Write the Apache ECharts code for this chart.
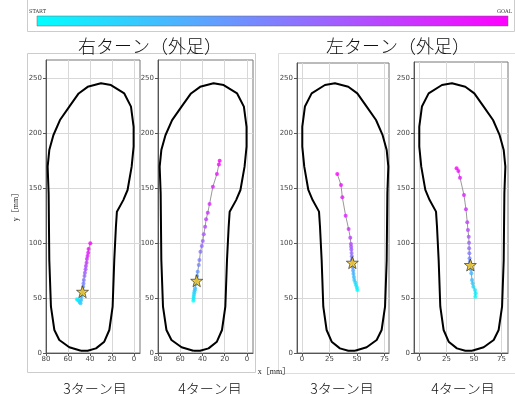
<!DOCTYPE html>
<html>
<head>
<meta charset="utf-8">
<script src="https://cdn.jsdelivr.net/npm/echarts@6/dist/echarts.min.js"></script>
<style>
  html, body { margin: 0; padding: 0; background: #fff; }
  #chart { width: 515px; height: 394px; }
</style>
</head>
<body>
<div id="chart"></div>
<script>
// Insole outline (mm), traced once and shared by every panel
const footOutline = [
  [48.2, 2.1], [58.8, 5.2], [67.9, 11.8], [72.4, 20.9], [75.5, 42.1], [77.0, 84.5],
  [77.6, 145.0], [78.5, 169.4], [77.0, 184.5], [73.3, 198.0], [67.3, 211.8],
  [58.8, 224.0], [50.3, 236.0], [42.1, 242.0], [30.0, 245.2], [20.9, 243.6],
  [8.8, 236.0], [2.7, 224.0], [0.3, 205.7], [0.3, 187.6], [2.1, 169.4],
  [5.8, 148.2], [9.7, 139.0], [15.5, 128.5], [16.4, 114.8], [17.9, 84.5],
  [19.4, 42.1], [22.4, 20.9], [27.0, 10.3], [34.5, 4.2], [42.1, 2.1], [48.2, 2.1]
];

// Centre-of-pressure tracks, start -> goal (x, y in mm)
const rightTurn3 = [
  [51.9, 48.8], [51.0, 48.2], [50.1, 47.6], [49.2, 46.1], [48.6, 45.2], [48.0, 48.2],
  [47.7, 51.2], [47.4, 53.6], [46.8, 55.7], [46.2, 60.3], [45.9, 63.3], [45.6, 66.4],
  [45.0, 70.0], [44.6, 73.0], [44.0, 76.1], [43.7, 79.1], [43.1, 82.1], [42.8, 85.5],
  [42.2, 88.2], [41.6, 91.2], [41.3, 94.5], [39.7, 99.7]
];
const rightTurn4 = [
  [48.2, 47.5], [48.0, 49.5], [47.9, 51.2], [47.6, 53.2], [47.3, 55.2], [46.9, 57.0],
  [46.6, 58.8], [46.1, 62.4], [45.2, 65.7], [44.8, 70.0], [44.3, 73.9], [43.3, 80.0],
  [42.7, 84.5], [41.8, 92.0], [40.6, 97.3], [39.7, 101.8], [38.8, 107.9], [37.6, 114.8],
  [36.7, 121.5], [35.2, 127.5], [33.6, 135.5], [30.6, 151.2], [27.0, 162.7],
  [25.2, 171.5], [24.5, 174.8]
];
const leftTurn3 = [
  [50.3, 57.3], [49.9, 59.5], [49.1, 61.8], [48.5, 64.0], [47.6, 66.4], [47.2, 69.0],
  [46.8, 72.0], [46.5, 75.0], [46.2, 78.0], [45.8, 82.1], [45.5, 85.0], [45.3, 88.0],
  [45.1, 91.0], [44.9, 94.0], [44.7, 96.5], [44.5, 99.1], [43.9, 104.8], [42.4, 112.7],
  [39.7, 124.8], [36.7, 141.5], [35.5, 152.7], [32.1, 162.7]
];
const leftTurn4 = [
  [51.2, 51.2], [51.5, 54.2], [50.9, 57.3], [49.4, 60.3], [48.8, 63.4], [48.2, 66.4],
  [47.6, 72.4], [47.2, 76.0], [46.7, 80.0], [46.2, 83.0], [46.0, 86.1], [45.8, 90.6],
  [45.6, 95.2], [45.5, 100.3], [45.2, 105.7], [44.5, 111.8], [43.9, 118.8],
  [42.7, 130.6], [40.9, 143.6], [37.3, 159.4], [35.8, 165.5], [34.2, 167.9]
];

// Star markers on each track
const rightTurn3Star = [46.8, 55.7];
const rightTurn4Star = [45.2, 65.7];
const leftTurn3Star = [45.8, 82.1];
const leftTurn4Star = [46.7, 80.0];

// Axis ticks
const rightTicksX = [0, 20, 40, 60, 80];
const leftTicksX = [0, 25, 50, 75];
const ticksY = [0, 50, 100, 150, 200, 250];

const groupTitles = ['右ターン（外足）', '左ターン（外足）'];
const panelLabels = ['3ターン目', '4ターン目', '3ターン目', '4ターン目'];

// cyan -> magenta ("cool") colour for position t in [0, 1]
function coolColor(t) {
  const r = Math.round(255 * t), g = Math.round(255 * (1 - t));
  return 'rgb(' + r + ',' + g + ',255)';
}

const panels = [
  { track: rightTurn3, star: rightTurn3Star, ticks: rightTicksX, inverse: true,
    xmin: -5.5, xmax: 80, ymax: 266.4, grid: { left: 46, top: 60, width: 94, height: 293 } },
  { track: rightTurn4, star: rightTurn4Star, ticks: rightTicksX, inverse: true,
    xmin: -5.5, xmax: 80, ymax: 266.4, grid: { left: 158, top: 60, width: 95, height: 293 } },
  { track: leftTurn3, star: leftTurn3Star, ticks: leftTicksX, inverse: false,
    xmin: -4.5, xmax: 79.1, ymax: 263.6, grid: { left: 297, top: 63, width: 92, height: 290 } },
  { track: leftTurn4, star: leftTurn4Star, ticks: leftTicksX, inverse: false,
    xmin: -4.5, xmax: 80.9, ymax: 264.5, grid: { left: 414, top: 62, width: 94, height: 291 } }
];

const tickFont = { fontFamily: 'DejaVu Sans', fontSize: 7, color: '#444' };
const grids = [], xAxes = [], yAxes = [], series = [];

panels.forEach(function (p, i) {
  grids.push(Object.assign({ show: true, borderColor: '#777', borderWidth: 1,
    backgroundColor: '#fff' }, p.grid));
  xAxes.push({
    type: 'value', gridIndex: i, min: p.xmin, max: p.xmax, inverse: p.inverse,
    axisLine: { show: true, onZero: false, lineStyle: { color: '#555' } },
    axisTick: { show: true, length: 3, customValues: p.ticks, lineStyle: { color: '#555' } },
    axisLabel: Object.assign({ customValues: p.ticks, margin: 3 }, tickFont),
    splitLine: { show: true, lineStyle: { color: '#d8d8d8', width: 1 } }
  });
  yAxes.push({
    type: 'value', gridIndex: i, min: 0, max: p.ymax,
    axisLine: { show: true, onZero: false, lineStyle: { color: '#555' } },
    axisTick: { show: true, length: 3, customValues: ticksY, lineStyle: { color: '#555' } },
    axisLabel: Object.assign({ customValues: ticksY, margin: 4 }, tickFont),
    splitLine: { show: true, lineStyle: { color: '#d8d8d8', width: 1 } }
  });
  series.push({
    type: 'line', xAxisIndex: i, yAxisIndex: i, data: footOutline,
    symbol: 'none', silent: true, lineStyle: { color: '#000', width: 2 }, z: 2
  });
  series.push({
    type: 'line', xAxisIndex: i, yAxisIndex: i, data: p.track,
    symbol: 'none', silent: true, lineStyle: { color: '#999', width: 1 }, z: 3
  });
  const n = p.track.length;
  series.push({
    type: 'scatter', xAxisIndex: i, yAxisIndex: i, symbolSize: 4, z: 4,
    data: p.track.map(function (pt, k) {
      return { value: pt, itemStyle: { color: coolColor(k / (n - 1)) } };
    })
  });
  series.push({
    type: 'scatter', xAxisIndex: i, yAxisIndex: i, symbol: 'path://M0,-10L2.35,-3.24L9.51,-3.09L3.8,1.24L5.88,8.09L0,4L-5.88,8.09L-3.8,1.24L-9.51,-3.09L-2.35,-3.24Z',
    symbolSize: 12, z: 5, data: [p.star],
    itemStyle: { color: '#f5c518', borderColor: '#222', borderWidth: 0.8 }
  });
});

const serifJP = '"Noto Sans CJK JP", sans-serif';
const graphics = [
  // frame round the colour bar (open at the top)
  { type: 'polyline', shape: { points: [[27.5, 0], [27.5, 31.5], [514.5, 31.5], [514.5, 0]] },
    style: { fill: 'none', stroke: '#ccc', lineWidth: 1 }, z: 0 },
  // grouping frames
  { type: 'rect', shape: { x: 27.5, y: 53.5, width: 228, height: 319 }, style: { fill: 'none', stroke: '#ccc', lineWidth: 1 }, z: 0 },
  { type: 'rect', shape: { x: 278.5, y: 53.5, width: 240, height: 320 }, style: { fill: 'none', stroke: '#ddd', lineWidth: 1 }, z: 0 },
  // colour bar
  { type: 'rect', shape: { x: 37, y: 16, width: 471, height: 10 },
    style: { fill: new echarts.graphic.LinearGradient(0, 0, 1, 0, [
      { offset: 0, color: '#00ffff' }, { offset: 1, color: '#ff00ff' }]), stroke: '#666', lineWidth: 0.5 } },
  { type: 'text', x: 29, y: 9, style: { text: 'START', font: '5px "DejaVu Serif"', fill: '#333' } },
  { type: 'text', x: 497, y: 9, style: { text: 'GOAL', font: '5px "DejaVu Serif"', fill: '#333' } },
  // group titles
  { type: 'text', x: 150, y: 46, style: { text: groupTitles[0], font: '300 18px ' + serifJP, fill: '#111', align: 'center', verticalAlign: 'middle' } },
  { type: 'text', x: 398, y: 46, style: { text: groupTitles[1], font: '300 18px ' + serifJP, fill: '#111', align: 'center', verticalAlign: 'middle' } },
  // axis names
  { type: 'text', x: 16, y: 205, rotation: Math.PI / 2, style: { text: 'y［mm］', font: '8px "Liberation Serif", ' + serifJP, fill: '#222', align: 'center', verticalAlign: 'middle' } },
  { type: 'text', x: 274, y: 372, style: { text: 'x［mm］', font: '8px "Liberation Serif", ' + serifJP, fill: '#222', align: 'center', verticalAlign: 'middle' } }
];
const labelX = [95, 210, 342, 463];
panelLabels.forEach(function (t, i) {
  graphics.push({ type: 'text', x: labelX[i], y: 389,
    style: { text: t, font: '300 14px ' + serifJP, fill: '#111', align: 'center', verticalAlign: 'middle' } });
});

const chart = echarts.init(document.getElementById('chart'), null, { renderer: 'canvas' });
chart.setOption({
  animation: false,
  backgroundColor: '#fff',
  grid: grids,
  xAxis: xAxes,
  yAxis: yAxes,
  series: series,
  graphic: graphics
});
</script>
</body>
</html>
